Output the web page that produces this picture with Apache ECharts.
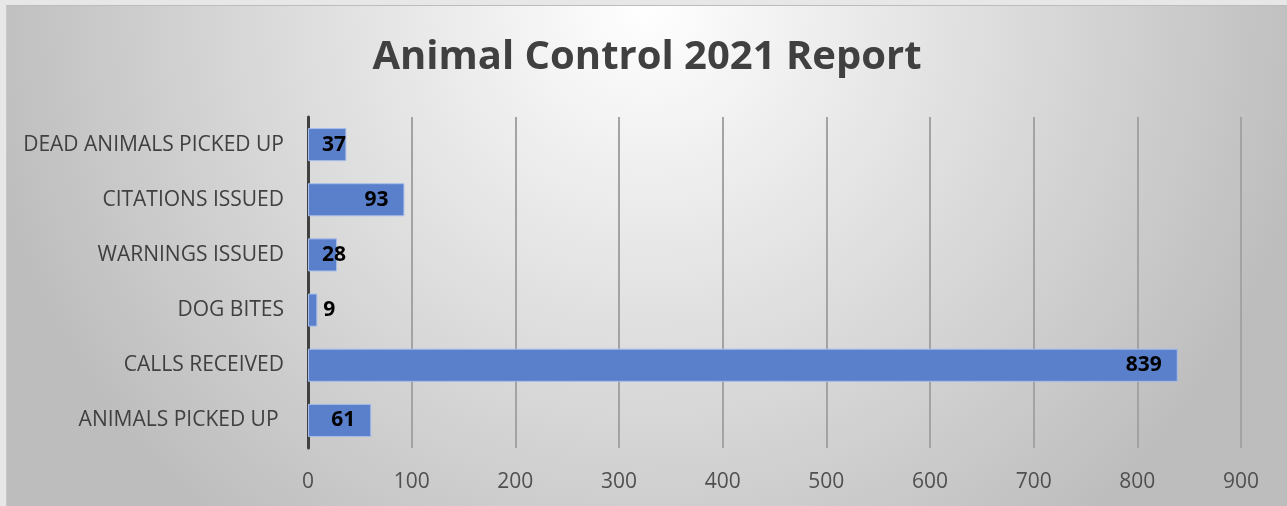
<!DOCTYPE html>
<html>
<head>
<meta charset="utf-8">
<script src="https://cdn.jsdelivr.net/npm/echarts@6/dist/echarts.min.js"></script>
<style>
  html, body { margin: 0; padding: 0; background: #e7e7e7; }
  #chart {
    position: absolute; left: 6px; top: 5px;
    width: 1281px; height: 501px;
    box-sizing: border-box;
    border-top: 1px solid #bcbcbc; border-left: 1px solid #c8c8c8;
  }
</style>
</head>
<body>
<div id="chart"></div>
<script>
// Report categories, listed bottom to top as the axis draws them
const categories = [
  'ANIMALS PICKED UP ',
  'CALLS RECEIVED',
  'DOG BITES',
  'WARNINGS ISSUED',
  'CITATIONS ISSUED',
  'DEAD ANIMALS PICKED UP'
];
const counts = [61, 839, 9, 28, 93, 37];
const valueTicks = [0, 100, 200, 300, 400, 500, 600, 700, 800, 900];

const chart = echarts.init(document.getElementById('chart'));

// Short bars get their label pinned near the axis, tiny ones outside the bar
function labelFor(v) {
  if (v < 15) return { position: 'right', distance: 6 };
  if (v < 50) return { position: 'insideLeft', distance: 14 };
  return { position: 'insideRight', distance: 16 };
}

const option = {
  backgroundColor: {
    type: 'radial', x: 0.5, y: 0, r: 1.35,
    colorStops: [
      { offset: 0, color: '#ffffff' },
      { offset: 1, color: '#bdbdbd' }
    ]
  },
  title: {
    text: 'Animal Control 2021 Report',
    left: 'center',
    top: 27,
    textStyle: {
      fontFamily: 'Open Sans',
      fontWeight: 'bold',
      fontSize: 40,
      color: '#404040'
    }
  },
  grid: { left: 301, right: 46, top: 111, bottom: 58, containLabel: false },
  xAxis: {
    type: 'value',
    min: valueTicks[0],
    max: valueTicks[valueTicks.length - 1],
    interval: valueTicks[1] - valueTicks[0],
    axisLine: { show: false },
    axisTick: { show: false },
    splitLine: { lineStyle: { color: '#a3a3a3', width: 2 } },
    axisLabel: {
      margin: 24,
      fontFamily: 'Open Sans',
      fontSize: 21,
      color: '#505050'
    }
  },
  yAxis: {
    type: 'category',
    data: categories,
    axisLine: { lineStyle: { color: '#404040', width: 3 } },
    axisTick: { show: false },
    axisLabel: {
      margin: 24,
      padding: [5, 0, 0, 0],
      fontFamily: 'Open Sans',
      fontSize: 21,
      color: '#404040'
    }
  },
  series: [{
    type: 'bar',
    barCategoryGap: '40%',
    data: counts.map(v => ({ value: v, label: labelFor(v) })),
    itemStyle: {
      color: '#5a7fcb',
      borderColor: '#a8bde9',
      borderWidth: 1
    },
    label: {
      show: true,
      padding: [4, 0, 0, 0],
      fontFamily: 'Open Sans',
      fontWeight: 'bold',
      fontSize: 21,
      color: '#000000'
    }
  }]
};

chart.setOption(option);
</script>
</body>
</html>
